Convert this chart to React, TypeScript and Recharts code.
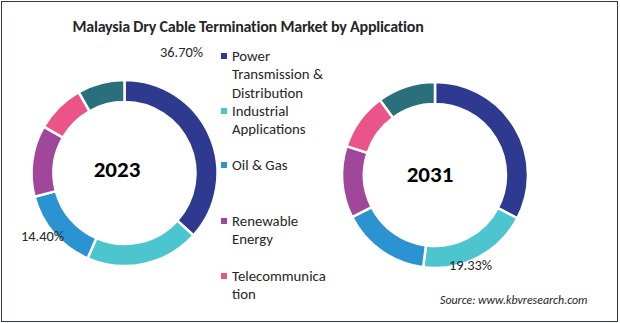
import { PieChart, Pie, Cell } from "recharts";

const categories = [
  "Power Transmission & Distribution",
  "Industrial Applications",
  "Oil & Gas",
  "Renewable Energy",
  "Telecommunication",
  "Others",
];
const legendLines = [
  ["Power", "Transmission &", "Distribution"],
  ["Industrial", "Applications"],
  ["Oil & Gas"],
  ["Renewable", "Energy"],
  ["Telecommunica", "tion"],
];
const legendTops = [47, 102, 156, 212, 267];
const colors = ["#2d3a8f", "#4dc5cf", "#2b93d1", "#a0479c", "#ea5488", "#29707c"];
const values2023 = [36.7, 19.8, 14.4, 12.4, 8.5, 8.2];
const values2031 = [32.7, 19.33, 15.5, 12.5, 9.9, 10.07];

const toRows = (vals: number[]) => categories.map((name, i) => ({ name, value: vals[i] }));

const font = "Calibri, Carlito, 'Open Sans', sans-serif";

export default function App() {
  return (
    <div
      style={{
        position: "absolute",
        left: 0,
        top: 0,
        width: 620,
        height: 323,
        background: "#fff",
        fontFamily: font,
        overflow: "hidden",
      }}
    >
      <div
        style={{
          position: "absolute",
          left: 1,
          top: 1,
          width: 615,
          height: 319,
          border: "1.5px solid #2b3a45",
        }}
      />
      <div
        style={{
          position: "absolute",
          left: 0,
          width: 496,
          top: 17,
          textAlign: "center",
          fontSize: 16,
          fontWeight: 700,
          color: "#262626",
          letterSpacing: -0.2,
        }}
      >
        Malaysia Dry Cable Termination Market by Application
      </div>
      <PieChart width={620} height={323} style={{ position: "absolute", left: 0, top: 0 }}>
        <Pie
          data={toRows(values2023)}
          dataKey="value"
          cx={119.5}
          cy={168}
          innerRadius={71}
          outerRadius={93}
          startAngle={90}
          endAngle={-270}
          stroke="#fff"
          strokeWidth={2.5}
          isAnimationActive={false}
        >
          {colors.map((c) => (
            <Cell key={c} fill={c} />
          ))}
        </Pie>
        <Pie
          data={toRows(values2031)}
          dataKey="value"
          cx={430}
          cy={170}
          innerRadius={71}
          outerRadius={93}
          startAngle={90}
          endAngle={-270}
          stroke="#fff"
          strokeWidth={2.5}
          isAnimationActive={false}
        >
          {colors.map((c) => (
            <Cell key={c} fill={c} />
          ))}
        </Pie>
      </PieChart>
      <div style={{ position: "absolute", left: 67, width: 100, top: 155, textAlign: "center", fontSize: 23, fontWeight: 700, color: "#000" }}>
        2023
      </div>
      <div style={{ position: "absolute", left: 380, width: 100, top: 160, textAlign: "center", fontSize: 23, fontWeight: 700, color: "#000" }}>
        2031
      </div>
      <div style={{ position: "absolute", left: 160, top: 43, fontSize: 14.4, color: "#262626" }}>36.70%</div>
      <div style={{ position: "absolute", left: 21, top: 227, fontSize: 14.4, color: "#262626" }}>14.40%</div>
      <div style={{ position: "absolute", left: 449, top: 256, fontSize: 14.4, color: "#262626" }}>19.33%</div>
      {legendLines.map((lines, i) => (
        <div key={i} style={{ position: "absolute", left: 221, top: legendTops[i], fontSize: 14.8, lineHeight: "18.3px", color: "#262626" }}>
          <span
            style={{
              position: "absolute",
              left: 0,
              top: 6,
              width: 6,
              height: 6,
              background: colors[i],
            }}
          />
          <div style={{ marginLeft: 11 }}>
            {lines.map((l) => (
              <div key={l} style={{ whiteSpace: "nowrap" }}>{l}</div>
            ))}
          </div>
        </div>
      ))}
      <div style={{ position: "absolute", left: 440, top: 293, fontSize: 11.9, fontStyle: "italic", color: "#262626" }}>
        Source: www.kbvresearch.com
      </div>
    </div>
  );
}
